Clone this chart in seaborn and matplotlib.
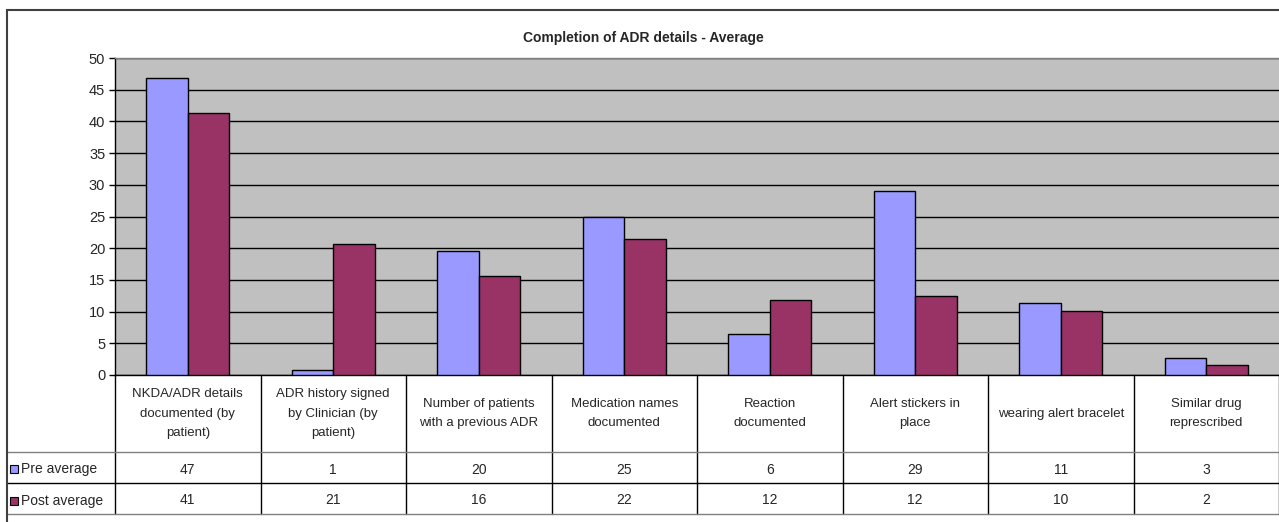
import numpy as np
import pandas as pd
import seaborn as sns
import matplotlib.pyplot as plt
from matplotlib.patches import Rectangle
from matplotlib.transforms import blended_transform_factory

# Data
items = [
    "NKDA/ADR details\ndocumented (by\npatient)",
    "ADR history signed\nby Clinician (by\npatient)",
    "Number of patients\nwith a previous ADR",
    "Medication names\ndocumented",
    "Reaction\ndocumented",
    "Alert stickers in\nplace",
    "wearing alert bracelet",
    "Similar drug\nreprescribed",
]
series = ["Pre average", "Post average"]
pre_avg = [46.8, 0.8, 19.6, 24.9, 6.4, 29.0, 11.3, 2.7]
post_avg = [41.3, 20.6, 15.6, 21.5, 11.9, 12.4, 10.1, 1.6]
colors = ["#9999FF", "#993366"]

df = pd.DataFrame({
    "item": items * 2,
    "value": pre_avg + post_avg,
    "series": [series[0]] * len(items) + [series[1]] * len(items),
})

sns.set_style("white")
plt.rcParams["font.family"] = ["Liberation Sans", "DejaVu Sans"]

W, H = 1279, 522
fig = plt.figure(figsize=(W / 100, H / 100), dpi=100)
ax_left, ax_right, ax_top, ax_bottom = 115, 1279, 58, 375
ax = fig.add_axes([ax_left / W, 1 - ax_bottom / H,
                   (ax_right - ax_left) / W, (ax_bottom - ax_top) / H])
ax.set_facecolor("#C0C0C0")

sns.barplot(data=df, x="item", y="value", hue="series", order=items,
            hue_order=series, palette=colors, saturation=1, width=0.57,
            edgecolor="black", linewidth=1, legend=False, ax=ax, zorder=3)

ax.set_ylim(0, 50)
ax.set_xlim(-0.5, len(items) - 0.5)
ax.set_yticks(np.arange(0, 51, 5))
ax.yaxis.grid(True, color="black", linewidth=1)
ax.set_axisbelow(True)
ax.tick_params(axis="y", left=True, length=4, width=1, color="black",
               labelsize=10.5, pad=3)
ax.tick_params(axis="x", bottom=False, labelbottom=False)
ax.set_xlabel("")
ax.set_ylabel("")
for s in ["left", "bottom"]:
    ax.spines[s].set_color("black")
    ax.spines[s].set_linewidth(1)
ax.spines["top"].set_color("#808080")
ax.spines["top"].set_linewidth(1)
ax.spines["right"].set_visible(False)

fig.text(643 / W, 1 - 38 / H, "Completion of ADR details - Average",
         ha="center", va="center", fontsize=10, fontweight="bold")

# Data table under the plot
tr = blended_transform_factory(ax.transData, ax.transAxes)
axh = ax_bottom - ax_top
y_head = -(452 - ax_bottom) / axh
y_pre = -(483 - ax_bottom) / axh
y_post = -(514 - ax_bottom) / axh
nudge = -2 / axh
x_lab = -0.5 - (ax_left - 7) / ((ax_right - ax_left) / len(items))
x_end = len(items) - 0.5
line_kw = dict(transform=tr, clip_on=False, linewidth=1)

for i in range(len(items) + 1):
    ax.plot([i - 0.5, i - 0.5], [0, y_post], color="black", **line_kw)
ax.plot([x_lab, x_end], [y_head, y_head], color="#808080", **line_kw)
ax.plot([x_lab, x_end], [y_pre, y_pre], color="black", **line_kw)
ax.plot([x_lab, x_end], [y_post, y_post], color="#808080", **line_kw)

for i, label in enumerate(items):
    ax.text(i, y_head / 2, label, transform=tr, ha="center", va="center",
            fontsize=9.5, linespacing=1.85)
    ax.text(i, (y_head + y_pre) / 2 + nudge, f"{pre_avg[i]:.0f}", transform=tr,
            ha="center", va="center", fontsize=10)
    ax.text(i, (y_pre + y_post) / 2 + nudge, f"{post_avg[i]:.0f}", transform=tr,
            ha="center", va="center", fontsize=10)

for k, (name, c) in enumerate(zip(series, colors)):
    yc = [(y_head + y_pre) / 2, (y_pre + y_post) / 2][k] + nudge
    yf = ax.transAxes.transform((0, yc))[1] / H
    fig.patches.append(Rectangle((10 / W, yf - 4 / H), 8 / W, 8 / H,
                                 transform=fig.transFigure, facecolor=c,
                                 edgecolor="black", linewidth=0.8))
    fig.text(21 / W, yf, name, ha="left", va="center", fontsize=10)

# Outer chart frame
fig.patches.append(Rectangle((7 / W, -0.02), 1.0, 1 - 10 / H + 0.02,
                             transform=fig.transFigure, fill=False,
                             edgecolor="#404040", linewidth=1.5))

fig.savefig("out.png", dpi=100)
plt.close(fig)
